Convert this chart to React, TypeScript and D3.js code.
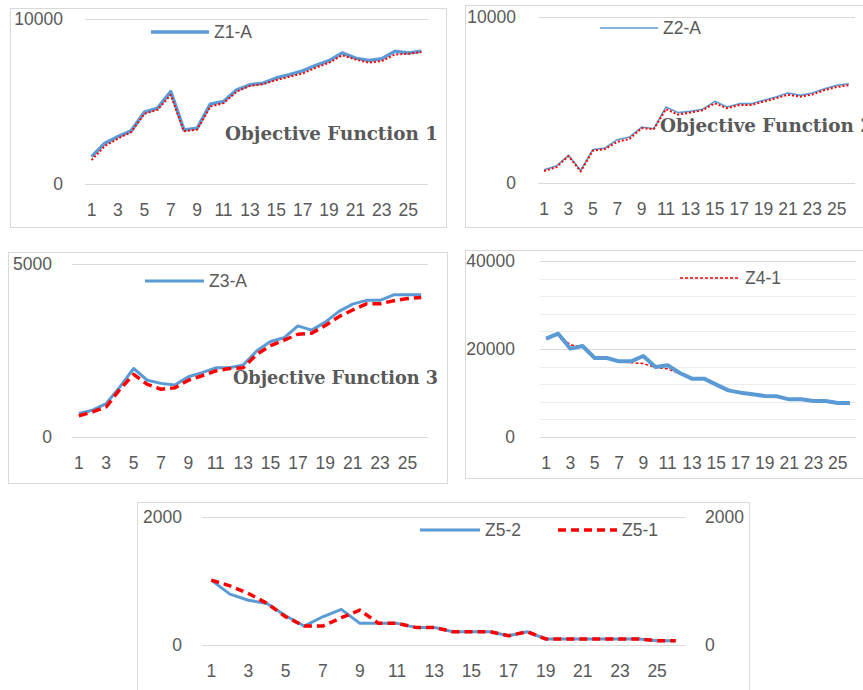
import React from 'react';
import * as d3 from 'd3';

const categories = [1, 2, 3, 4, 5, 6, 7, 8, 9, 10, 11, 12, 13, 14, 15, 16, 17, 18, 19, 20, 21, 22, 23, 24, 25, 26];
const xTickLabels = ['1', '3', '5', '7', '9', '11', '13', '15', '17', '19', '21', '23', '25'];

const z1A = [1660, 2470, 2870, 3220, 4350, 4600, 5600, 3280, 3380, 4840, 5000, 5710, 6010, 6110, 6420, 6620, 6860, 7190, 7470, 7940, 7630, 7490, 7590, 8040, 7940, 8040];
const z1One = [1450, 2300, 2750, 3150, 4250, 4500, 5400, 3200, 3300, 4700, 4900, 5600, 5950, 6050, 6300, 6500, 6700, 7050, 7350, 7800, 7550, 7350, 7450, 7850, 7900, 8000];

const z2A = [800, 1020, 1670, 760, 2010, 2110, 2610, 2770, 3370, 3270, 4580, 4240, 4320, 4440, 4920, 4580, 4780, 4780, 4980, 5180, 5420, 5280, 5420, 5680, 5880, 5980];
const z2One = [720, 950, 1620, 700, 1950, 2050, 2480, 2650, 3300, 3250, 4450, 4120, 4250, 4380, 4800, 4500, 4700, 4700, 4900, 5100, 5320, 5200, 5330, 5600, 5780, 5900];

const z3A = [677, 774, 967, 1450, 1980, 1640, 1550, 1500, 1740, 1860, 2000, 2000, 2080, 2490, 2760, 2870, 3210, 3090, 3320, 3630, 3840, 3950, 3950, 4110, 4110, 4110];
const z3One = [610, 725, 870, 1380, 1810, 1520, 1380, 1420, 1640, 1770, 1910, 1980, 2000, 2390, 2640, 2800, 2970, 3000, 3220, 3480, 3670, 3850, 3850, 3940, 4000, 4030];

const z4A = [22350, 23480, 20080, 20680, 17950, 17950, 17200, 17200, 18400, 15900, 16300, 14550, 13260, 13260, 11900, 10600, 10080, 9700, 9320, 9240, 8560, 8560, 8180, 8180, 7730, 7730];
const z4One = [22300, 23400, 20900, 20600, 17900, 17900, 17100, 16900, 16700, 15800, 15500, 14400, 13200, 13200, 11800, 10500, 10000, 9600, 9300, 9200, 8500, 8500, 8200, 8100, 7700, 7700];

const z5Two = [1013, 795, 700, 650, 457, 296, 441, 556, 338, 338, 338, 275, 275, 208, 208, 208, 145, 208, 94, 94, 94, 94, 94, 94, 68, 68];
const z5One = [1013, 925, 805, 650, 441, 296, 296, 426, 545, 338, 338, 275, 275, 208, 208, 208, 145, 208, 94, 94, 94, 94, 94, 94, 68, 68];

const BLUE = '#5B9BD5';
const RED = '#FF0000';
const TEXT = '#595959';
const GRID = '#D9D9D9';
const FONT = '"Liberation Sans", Arial, sans-serif';
const TITLE_FONT = '"DejaVu Serif", "Liberation Serif", serif';
const FS = 17.5;

type Style = { color: string; width: number; dash?: string };
type Series = { values: number[]; style: Style };
type LegendItem = { x1: number; x2: number; y: number; label: string; style: Style };

type PanelProps = {
  box: [number, number, number, number];
  plot: { x0: number; x1: number; yTop: number; yBottom: number };
  yMax: number;
  yTicks: number[];
  minorStep?: number;
  series: Series[];
  legend: LegendItem[];
  title?: { x: number; y: number; text: string; length: number };
  rightAxis?: number;
  labelRight: number;
};

function Panel(p: PanelProps) {
  const { plot } = p;
  const x = d3.scaleBand<number>().domain(categories).range([plot.x0, plot.x1]);
  const cx = (c: number) => (x(c) as number) + x.bandwidth() / 2;
  const y = d3.scaleLinear().domain([0, p.yMax]).range([plot.yBottom, plot.yTop]);
  const line = d3
    .line<number>()
    .x((_, i) => cx(categories[i]))
    .y((d) => y(d));
  const minor = p.minorStep ? d3.range(0, p.yMax + 1, p.minorStep).filter((v) => !p.yTicks.includes(v)) : [];
  const [bx, by, bw, bh] = p.box;
  return (
    <g>
      <rect x={bx + 0.5} y={by + 0.5} width={bw} height={bh} fill="#fff" stroke={GRID} strokeWidth={1} />
      {minor.map((v) => (
        <line key={'m' + v} x1={plot.x0} x2={plot.x1} y1={Math.round(y(v)) + 0.5} y2={Math.round(y(v)) + 0.5} stroke="#ECECEC" />
      ))}
      {p.yTicks.map((v) => (
        <line key={'g' + v} x1={plot.x0} x2={plot.x1} y1={Math.round(y(v)) + 0.5} y2={Math.round(y(v)) + 0.5} stroke={GRID} />
      ))}
      {p.yTicks.map((v) => (
        <text key={'t' + v} x={p.labelRight} y={y(v)} textAnchor="end" dominantBaseline="central" fill={TEXT} fontFamily={FONT} fontSize={FS}>
          {v}
        </text>
      ))}
      {p.rightAxis !== undefined &&
        p.yTicks.map((v) => (
          <text key={'r' + v} x={p.rightAxis} y={y(v)} textAnchor="start" dominantBaseline="central" fill={TEXT} fontFamily={FONT} fontSize={FS}>
            {v}
          </text>
        ))}
      {categories.map((c, i) =>
        i % 2 === 0 ? (
          <text key={'x' + c} x={cx(c)} y={plot.yBottom + 26} textAnchor="middle" dominantBaseline="central" fill={TEXT} fontFamily={FONT} fontSize={FS}>
            {xTickLabels[i / 2]}
          </text>
        ) : null
      )}
      {p.series.map((s, i) => (
        <path
          key={'s' + i}
          d={line(s.values) || ''}
          fill="none"
          stroke={s.style.color}
          strokeWidth={s.style.width}
          strokeDasharray={s.style.dash}
          strokeLinejoin="round"
        />
      ))}
      {p.legend.map((l, i) => (
        <g key={'l' + i}>
          <line x1={l.x1} x2={l.x2} y1={l.y} y2={l.y} stroke={l.style.color} strokeWidth={l.style.width} strokeDasharray={l.style.dash} />
          <text x={l.x2 + 5} y={l.y} dominantBaseline="central" fill={TEXT} fontFamily={FONT} fontSize={FS}>
            {l.label}
          </text>
        </g>
      ))}
      {p.title && (
        <text
          x={p.title.x}
          y={p.title.y}
          dominantBaseline="central"
          fill={TEXT}
          fontFamily={TITLE_FONT}
          fontWeight="bold"
          fontSize={18.5}
          textLength={p.title.length}
          lengthAdjust="spacingAndGlyphs"
        >
          {p.title.text}
        </text>
      )}
    </g>
  );
}

export default function App() {
  const blueThick: Style = { color: BLUE, width: 3.5 };
  return (
    <svg width={863} height={690} style={{ position: 'absolute', left: 0, top: 0, background: '#fff' }}>
      <Panel
        box={[10, 8, 436, 219]}
        plot={{ x0: 85, x1: 428, yTop: 19, yBottom: 184 }}
        yMax={10000}
        yTicks={[0, 10000]}
        labelRight={63}
        series={[
          { values: z1A, style: blueThick },
          { values: z1One, style: { color: RED, width: 2, dash: '2 2' } },
        ]}
        legend={[{ x1: 151, x2: 209, y: 32, label: 'Z1-A', style: blueThick }]}
        title={{ x: 225, y: 133, text: 'Objective Function 1', length: 213 }}
      />
      <Panel
        box={[465, 5, 410, 222]}
        plot={{ x0: 538, x1: 855, yTop: 17, yBottom: 183 }}
        yMax={10000}
        yTicks={[0, 10000]}
        labelRight={516}
        series={[
          { values: z2A, style: { color: BLUE, width: 1.6 } },
          { values: z2One, style: { color: RED, width: 2, dash: '2 2' } },
        ]}
        legend={[{ x1: 600, x2: 658, y: 28, label: 'Z2-A', style: { color: BLUE, width: 1.6 } }]}
        title={{ x: 660, y: 125, text: 'Objective Function 2', length: 213 }}
      />
      <Panel
        box={[8, 252, 439, 231]}
        plot={{ x0: 72, x1: 428, yTop: 264, yBottom: 437 }}
        yMax={5000}
        yTicks={[0, 5000]}
        labelRight={52}
        series={[
          { values: z3A, style: { color: BLUE, width: 3 } },
          { values: z3One, style: { color: RED, width: 3.5, dash: '9 5' } },
        ]}
        legend={[{ x1: 145, x2: 204, y: 281, label: 'Z3-A', style: { color: BLUE, width: 3 } }]}
        title={{ x: 233, y: 377, text: 'Objective Function 3', length: 205 }}
      />
      <Panel
        box={[465, 250, 410, 228]}
        plot={{ x0: 540, x1: 856, yTop: 261, yBottom: 437 }}
        yMax={40000}
        yTicks={[0, 20000, 40000]}
        minorStep={4000}
        labelRight={515}
        series={[
          { values: z4One, style: { color: RED, width: 1.5, dash: '3 2' } },
          { values: z4A, style: { color: BLUE, width: 4 } },
        ]}
        legend={[{ x1: 680, x2: 740, y: 278, label: 'Z4-1', style: { color: RED, width: 1.5, dash: '3 2' } }]}
      />
      <Panel
        box={[137, 502, 612, 200]}
        plot={{ x0: 202, x1: 685, yTop: 517, yBottom: 645 }}
        yMax={2000}
        yTicks={[0, 2000]}
        labelRight={182}
        rightAxis={705}
        series={[
          { values: z5Two, style: { color: BLUE, width: 3 } },
          { values: z5One, style: { color: RED, width: 3.5, dash: '8 5' } },
        ]}
        legend={[
          { x1: 420, x2: 480, y: 530, label: 'Z5-2', style: { color: BLUE, width: 3 } },
          { x1: 558, x2: 617, y: 530, label: 'Z5-1', style: { color: RED, width: 3.5, dash: '8 5' } },
        ]}
      />
    </svg>
  );
}
